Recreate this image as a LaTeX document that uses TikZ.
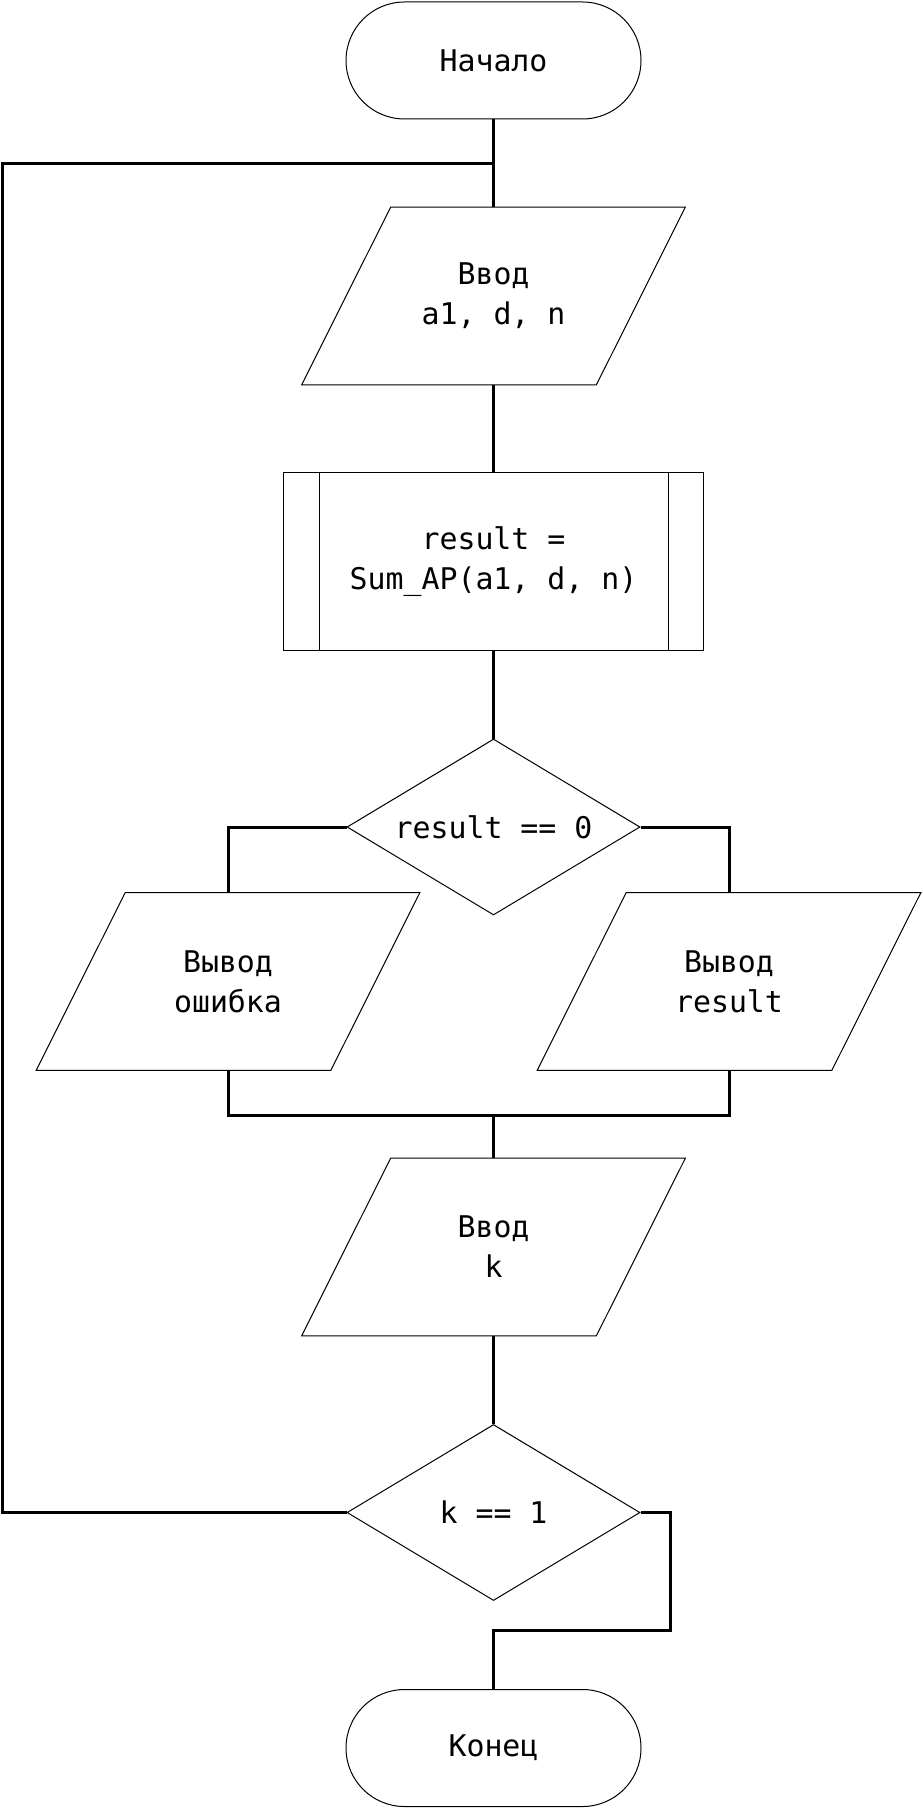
\documentclass[tikz,border=0pt]{standalone}
\usepackage{fontspec}
\newfontfamily\flowfont{DejaVu Sans Mono}
\usetikzlibrary{shapes.geometric}

\begin{document}
\begin{tikzpicture}[
        every node/.append style = {font = \flowfont\fontsize{17}{22.8}\selectfont, align = center, inner sep = 0pt},
        block/.style = {draw, line width = 0.02cm},
        terminal/.style = {block, rectangle, rounded corners = 1.17cm, minimum width = 5.9cm, minimum height = 2.34cm},
        io/.style = {rectangle, minimum width = 7.66cm, minimum height = 3.54cm},
        subproc/.style = {block, rectangle, minimum width = 8.4cm, minimum height = 3.55cm},
        decision/.style = {block, diamond, aspect = 1.66, minimum width = 5.86cm, minimum height = 3.52cm},
        link/.style = {line width = 0.06cm}
    ]
    \useasboundingbox (0,0) rectangle (18.44,-36.18);
    \node[terminal] (start) at (9.87,-1.21) {Начало};
    \node[io] (in1) at (9.87,-5.92) {Ввод\\a1, d, n};
    \node[subproc] (sum) at (9.87,-11.23) {result =\\Sum\_AP(a1, d, n)};
    \node[decision] (test) at (9.87,-16.54) {result == 0};
    \node[io] (err) at (4.56,-19.63) {Вывод\\ошибка};
    \node[io] (res) at (14.58,-19.63) {Вывод\\result};
    \node[io] (in2) at (9.87,-24.94) {Ввод\\k};
    \node[decision] (again) at (9.87,-30.25) {k == 1};
    \node[terminal] (stop) at (9.87,-34.96) {Конец};
    \foreach \n in {in1, err, res, in2}
        \draw[block] ([xshift = 1.78cm]\n.north west) -- (\n.north east) -- ([xshift = -1.78cm]\n.south east) -- (\n.south west) -- cycle;
    \draw[block] ([xshift = 0.72cm]sum.north west) -- ([xshift = 0.72cm]sum.south west);
    \draw[block] ([xshift = -0.72cm]sum.north east) -- ([xshift = -0.72cm]sum.south east);
    \coordinate (top) at (9.87,-3.27);
    \coordinate (loop) at (0.06,-3.27);
    \coordinate (merge) at (9.87,-22.3);
    \coordinate (exit) at (13.4,-32.6);
    \begin{scope}[link]
        \draw (start) -- (in1);
        \draw (in1) -- (sum);
        \draw (sum) -- (test);
        \draw (test.west) -| (err.north);
        \draw (test.east) -| (res.north);
        \draw (err.south) |- (merge) -| (res.south);
        \draw (merge) -- (in2);
        \draw (in2) -- (again);
        \draw (again.west) -| (loop) -- (top);
        \draw (again.east) -| (exit) -| (stop.north);
    \end{scope}
\end{tikzpicture}
\end{document}
